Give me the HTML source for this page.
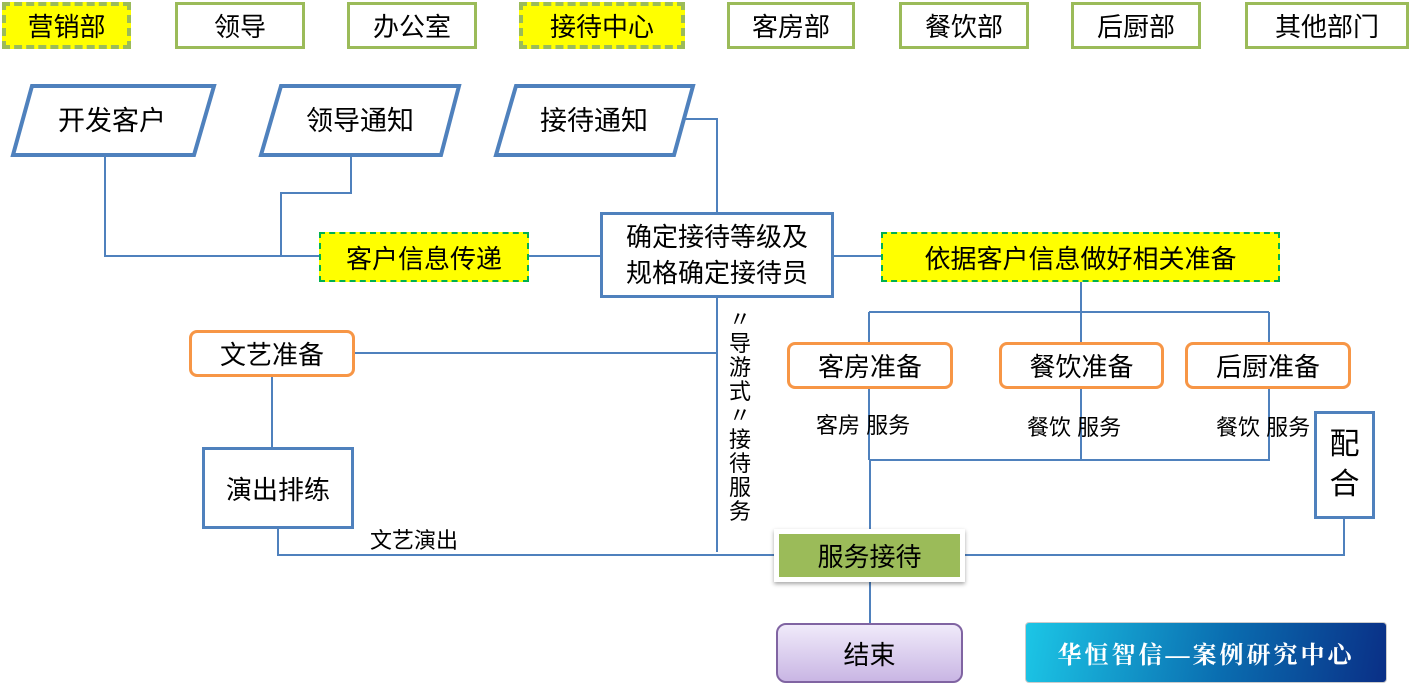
<!DOCTYPE html>
<html><head><meta charset="utf-8"><style>
body{margin:0;width:1411px;height:698px;background:#fff;position:relative;overflow:hidden;font-family:"Liberation Sans","Noto Sans CJK SC",sans-serif;color:#000}
.b{position:absolute;box-sizing:border-box;display:flex;align-items:center;justify-content:center;font-size:26px}
.g{border:3px solid #9bbb59;background:#fff}
.y{border:4px dashed #9bbb59;background:#ff0}
.o{border:3px solid #f79646;border-radius:8px;background:#fff}
.bl{border:3px solid #4f81bd;background:#fff}
.t{position:absolute;font-size:22px;white-space:nowrap}
</style></head><body>
<svg width="1411" height="698" style="position:absolute;left:0;top:0">
<g fill="none" stroke="#4f81bd" stroke-width="2">
<path d="M105 155V256H320M351 155V193H281V256M529 256H600M684 119H717V212M717 298V552M355 353H717M834 256H881M1081 282V312M869 312H1269M869 312V342M1081 312V342M1269 312V342M869 389V460M1081 389V460M1269 389V460H869M870 460V530M278 529V555H774M965 555H1344V518M272 377V447M870 582V623"/>
</g>
<g fill="#fff" stroke="#4f81bd" stroke-width="4">
<polygon points="32,86 214,86 194,155 13,155"/>
<polygon points="281,86 459,86 441,155 261,155"/>
<polygon points="516,86 693,86 674,155 496,155"/>
</g>
<text x="112" y="130" font-size="27" text-anchor="middle">开发客户</text>
<text x="360" y="130" font-size="27" text-anchor="middle">领导通知</text>
<text x="594" y="130" font-size="27" text-anchor="middle">接待通知</text>
</svg>
<div class="b y" style="left:2px;top:2px;width:129px;height:47px">营销部</div>
<div class="b g" style="left:175px;top:2px;width:130px;height:47px">领导</div>
<div class="b g" style="left:347px;top:2px;width:130px;height:47px">办公室</div>
<div class="b y" style="left:519px;top:2px;width:166px;height:47px">接待中心</div>
<div class="b g" style="left:727px;top:2px;width:128px;height:47px">客房部</div>
<div class="b g" style="left:899px;top:2px;width:130px;height:47px">餐饮部</div>
<div class="b g" style="left:1071px;top:2px;width:130px;height:47px">后厨部</div>
<div class="b g" style="left:1245px;top:2px;width:164px;height:47px">其他部门</div>
<div class="b y" style="left:319px;top:232px;width:210px;height:50px;border-color:#00b050;border-width:2px">客户信息传递</div>
<div class="b bl" style="left:600px;top:212px;width:234px;height:86px;line-height:36px;text-align:center">确定接待等级及<br>规格确定接待员</div>
<div class="b y" style="left:881px;top:232px;width:399px;height:50px;border-color:#00b050;border-width:2px">依据客户信息做好相关准备</div>
<div class="b o" style="left:189px;top:330px;width:166px;height:47px">文艺准备</div>
<div class="b bl" style="left:202px;top:447px;width:152px;height:82px">演出排练</div>
<div class="b o" style="left:787px;top:342px;width:166px;height:47px">客房准备</div>
<div class="b o" style="left:999px;top:342px;width:165px;height:47px">餐饮准备</div>
<div class="b o" style="left:1185px;top:342px;width:166px;height:47px">后厨准备</div>
<div class="t" style="left:816px;top:408px">客房 服务</div>
<div class="t" style="left:1027px;top:410px">餐饮 服务</div>
<div class="t" style="left:1216px;top:410px">餐饮 服务</div>
<div class="b bl" style="left:1314px;top:411px;width:61px;height:108px;font-size:30px;line-height:40px;text-align:center">配<br>合</div>
<div class="t" style="left:370px;top:523px">文艺演出</div>
<div class="t" style="left:728px;top:308px;width:24px;line-height:24px;white-space:normal;text-align:center;font-size:22px">〃<br>导<br>游<br>式<br>〃<br>接<br>待<br>服<br>务</div>
<div class="b" style="left:774px;top:529px;width:191px;height:53px;background:#9bbb59;border:5px solid #fff;box-shadow:0 2px 4px rgba(0,0,0,.35)">服务接待</div>
<div class="b" style="left:776px;top:623px;width:187px;height:60px;border:2px solid #8064a2;border-radius:10px;background:linear-gradient(#f0eafa,#c9b6e4)">结束</div>
<div class="b" style="left:1025px;top:622px;width:362px;height:61px;background:linear-gradient(100deg,#1cc6e6,#0a6db0 55%,#0a2f86);border:1px solid #ccc;border-radius:4px;color:#fff;font-size:24px;font-weight:bold;letter-spacing:3px;font-family:'Liberation Serif','Noto Serif CJK SC',serif">华恒智信—案例研究中心</div>
</body></html>
